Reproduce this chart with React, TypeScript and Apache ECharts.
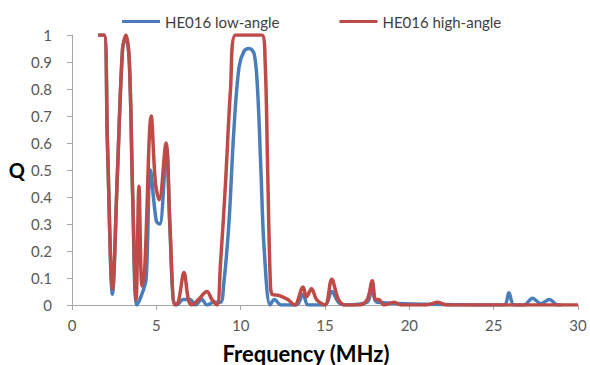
import React, { useEffect, useRef } from "react";
import * as echarts from "echarts";

const lowFreq = [1.55, 1.9, 2.1, 2.4, 2.7, 3.0, 3.2, 3.4, 3.6, 3.85, 4.2, 4.4, 4.65, 5.0, 5.2, 5.6, 5.8, 6.0, 6.2, 6.6, 7.0, 7.3, 7.7, 8.0, 8.4, 8.8, 9.0, 9.3, 9.6, 9.9, 10.2, 10.5, 10.8, 11.0, 11.2, 11.4, 11.75, 12.0, 12.4, 13.3, 13.7, 14.0, 15.0, 15.4, 15.8, 16.2, 17.5, 17.8, 18.1, 25.6, 25.9, 26.2, 26.8, 27.3, 27.8, 28.3, 28.8, 29.0];
const lowQ = [1, 1, 0.6, 0.04, 0.5, 0.95, 0.99, 0.9, 0.4, 0.0, 0.05, 0.1, 0.5, 0.31, 0.3, 0.58, 0.3, 0.02, 0.0, 0.02, 0.02, 0.0, 0.02, 0.0, 0.01, 0.01, 0.08, 0.3, 0.65, 0.88, 0.94, 0.95, 0.93, 0.8, 0.5, 0.2, 0.0, 0.02, 0.0, 0.0, 0.04, 0.0, 0.0, 0.05, 0.01, 0.0, 0.01, 0.08, 0.01, 0.0, 0.045, 0.0, 0.0, 0.025, 0.005, 0.02, 0.0, 0.0];

const highFreq = [1.55, 1.9, 2.1, 2.4, 2.7, 3.0, 3.2, 3.4, 3.6, 3.8, 3.97, 4.15, 4.3, 4.7, 4.95, 5.17, 5.57, 5.8, 6.1, 6.3, 6.64, 6.9, 7.1, 7.5, 8.0, 8.3, 8.6, 8.8, 9.1, 9.4, 9.7, 11.25, 11.45, 11.6, 11.75, 11.85, 12.3, 12.8, 13.2, 13.7, 13.9, 14.2, 14.5, 15.0, 15.4, 15.8, 16.2, 17.0, 17.5, 17.8, 18.0, 18.2, 18.5, 19.1, 19.5, 21.0, 21.7, 22.2, 30];
const highQ = [1, 1, 0.6, 0.06, 0.5, 0.95, 1, 0.9, 0.4, 0.02, 0.44, 0.07, 0.12, 0.7, 0.45, 0.39, 0.6, 0.3, 0.0, 0.01, 0.12, 0.02, 0.0, 0.02, 0.05, 0.02, 0.0, 0.15, 0.45, 0.8, 1, 1, 0.9, 0.5, 0.1, 0.04, 0.035, 0.02, 0.0, 0.067, 0.03, 0.06, 0.02, 0.0, 0.095, 0.02, 0.0, 0.0, 0.02, 0.09, 0.02, 0.02, 0.0, 0.01, 0.0, 0.0, 0.01, 0.0, 0.0];

const seriesNames = ["HE016 low-angle", "HE016 high-angle"];
const colors = ["#4a7ebb", "#be4b48"];

export default function App() {
  const ref = useRef<HTMLDivElement>(null);
  useEffect(() => {
    if (!ref.current) return;
    const chart = echarts.init(ref.current, null, { renderer: "svg" });
    const font = "Lato, 'Open Sans', sans-serif";
    const lowData = lowFreq.map((f, i) => [f, lowQ[i]]);
    const highData = highFreq.map((f, i) => [f, highQ[i]]);
    chart.setOption({
      animation: false,
      textStyle: { fontFamily: font },
      legend: {
        top: 9,
        left: 117,
        itemGap: 60,
        itemWidth: 38,
        itemHeight: 3,
        icon: "rect",
        textStyle: { fontSize: 15, color: "#404040", fontFamily: font },
        data: seriesNames,
      },
      grid: { left: 72, right: 12, top: 35, bottom: 60, outerBoundsMode: "none", containLabel: false },
      xAxis: {
        type: "value",
        min: 0,
        max: 30,
        interval: 5,
        name: "Frequency (MHz)",
        nameLocation: "middle",
        nameGap: 37,
        nameTextStyle: { fontSize: 22, fontWeight: "bold", color: "#000", fontFamily: font, padding: [0, 38, 0, 0] },
        axisLine: { lineStyle: { color: "#a6a6a6" } },
        axisTick: { length: 5, lineStyle: { color: "#a6a6a6" } },
        axisLabel: { fontSize: 15, color: "#595959", margin: 12 },
        splitLine: { show: false },
      },
      yAxis: {
        type: "value",
        min: 0,
        max: 1,
        interval: 0.1,
        name: "Q",
        nameLocation: "middle",
        nameRotate: 0,
        nameGap: 47,
        nameTextStyle: { fontSize: 20, fontWeight: "bold", color: "#000", fontFamily: font, padding: [22, 0, 0, 0] },
        axisLine: { show: true, lineStyle: { color: "#a6a6a6" } },
        axisTick: { show: true, length: 5, lineStyle: { color: "#a6a6a6" } },
        axisLabel: { fontSize: 15, color: "#595959", margin: 20 },
        splitLine: { show: false },
      },
      series: [
        {
          name: seriesNames[0],
          type: "line",
          data: lowData,
          smooth: 0.35,
          showSymbol: false,
          symbol: "none",
          lineStyle: { width: 3.5, color: colors[0] },
          itemStyle: { color: colors[0] },
        },
        {
          name: seriesNames[1],
          type: "line",
          data: highData,
          smooth: 0.35,
          showSymbol: false,
          symbol: "none",
          lineStyle: { width: 3.5, color: colors[1] },
          itemStyle: { color: colors[1] },
        },
      ],
    });
    return () => chart.dispose();
  }, []);
  return (
    <div
      ref={ref}
      style={{ position: "fixed", left: 0, top: 0, width: 590, height: 365, background: "#fff" }}
    />
  );
}
